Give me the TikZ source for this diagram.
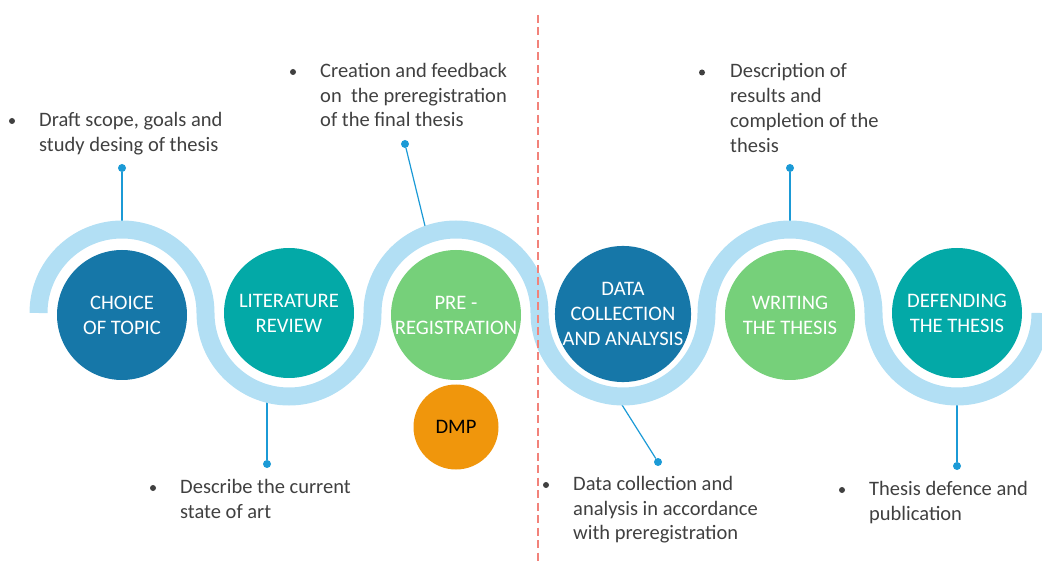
\documentclass[tikz,border=0pt]{standalone}
\usepackage{fontspec}
\setmainfont{Carlito}
\usepackage{tikz}
\definecolor{stepblue}{RGB}{22,119,168}
\definecolor{stepteal}{RGB}{3,169,167}
\definecolor{stepgreen}{RGB}{118,208,122}
\definecolor{dmporange}{RGB}{240,150,12}
\definecolor{ribbonblue}{RGB}{178,223,244}
\definecolor{pinblue}{RGB}{27,154,214}
\definecolor{dividerred}{RGB}{242,130,122}
\definecolor{notegray}{RGB}{64,64,64}

\begin{document}
\begin{tikzpicture}[x=1pt,y=-1pt,
  stage/.style={circle,minimum size=130pt,inner sep=0pt,text=white,align=center,font=\fontsize{20.6}{25}\selectfont},
  tipdot/.style={circle,fill=pinblue,minimum size=8pt,inner sep=0pt},
  dotmark/.style={circle,fill=notegray,minimum size=6pt,inner sep=0pt},
  remark/.style={anchor=base west,inner sep=0pt,align=left,text=notegray,font=\fontsize{20.5}{24.7}\selectfont},
  connector/.style={pinblue,line width=1.2pt}]
\useasboundingbox (0,0) rectangle (1042,569);
\clip (0,0) rectangle (1042,569);

% pins and their lines
\node[tipdot] (topic-dot) at (122,168) {};
\node[tipdot] (review-dot) at (267,464) {};
\node[tipdot] (prereg-dot) at (405,144) {};
\node[tipdot] (data-dot) at (658,462) {};
\node[tipdot] (writing-dot) at (790,168) {};
\node[tipdot] (defend-dot) at (957,466) {};
\coordinate (topic-top) at (122,230);
\coordinate (review-bot) at (267,395);
\coordinate (prereg-top) at (426,230);
\coordinate (data-bot) at (617,397);
\coordinate (writing-top) at (790,230);
\coordinate (defend-bot) at (957,396);
\draw [connector] (topic-dot) -- (topic-top);
\draw [connector] (review-dot) -- (review-bot);
\draw [connector] (prereg-dot) -- (prereg-top);
\draw [connector] (data-dot) -- (data-bot);
\draw [connector] (writing-dot) -- (writing-top);
\draw [connector] (defend-dot) -- (defend-bot);

% the ribbon
\draw [ribbonblue,line width=18pt] (38.5,313)
  arc[start angle=180,end angle=360,radius=83.5]
  arc[start angle=180,end angle=0,radius=83.5]
  arc[start angle=180,end angle=360,radius=83.5]
  arc[start angle=180,end angle=0,radius=83.5]
  arc[start angle=180,end angle=360,radius=83.5]
  arc[start angle=180,end angle=0,radius=83.5];

\node[stage,fill=stepblue] (topic) at (122,315) {CHOICE\\OF TOPIC};
\node[stage,fill=stepteal] (review) at (289,313) {LITERATURE\\REVIEW};
\node[stage,fill=stepgreen] (prereg) at (456,315) {PRE -\\REGISTRATION};
\node[stage,fill=stepblue] (data) at (623,314) {DATA\\COLLECTION\\AND ANALYSIS};
\node[stage,fill=stepgreen] (writing) at (790,315) {WRITING\\THE THESIS};
\node[stage,fill=stepteal] (defend) at (957,313) {DEFENDING\\THE THESIS};
\node[circle,fill=dmporange,minimum size=85pt,inner sep=0pt,font=\fontsize{20.6}{25}\selectfont] (dmp) at (456,427) {DMP};

\draw [dividerred,line width=1.8pt,dash pattern=on 8pt off 4.5pt] (538,15) -- (538,562);

% notes (anchored at the baseline of the last line)
\node[dotmark] at (12,121) {};
\node[remark] (topic-note) at (39,151.2) {Draft scope, goals and\\study desing of thesis};
\node[dotmark] at (293,72) {};
\node[remark] (prereg-note) at (320,126.9) {Creation and feedback\\on\ \ the preregistration\\of the final thesis};
\node[dotmark] at (702,72.5) {};
\node[remark] (writing-note) at (730,152.1) {Description of\\results and\\completion of the\\thesis};
\node[dotmark] at (153,488) {};
\node[remark] (review-note) at (180,518.2) {Describe the current\\state of art};
\node[dotmark] at (546,485) {};
\node[remark] (data-note) at (573,539.9) {Data collection and\\analysis in accordance\\with preregistration};
\node[dotmark] at (842,490) {};
\node[remark] (defend-note) at (869,520.2) {Thesis defence and\\publication};

\end{tikzpicture}
\end{document}
